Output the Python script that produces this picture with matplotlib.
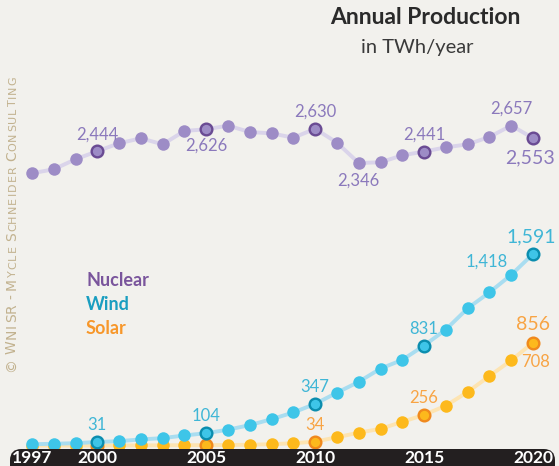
import numpy as np
import matplotlib
matplotlib.use("Agg")
import matplotlib.pyplot as plt
from matplotlib.patches import FancyBboxPatch

# Données (TWh/an)
annees = list(range(1997, 2021))
nucleaire = [2261, 2294, 2377, 2444, 2510, 2551, 2501, 2612, 2626, 2656, 2603, 2592,
             2556, 2630, 2515, 2346, 2352, 2410, 2441, 2476, 2501, 2562, 2657, 2553]
eolien = [12, 16, 21, 31, 38, 52, 63, 85, 104, 133, 171, 220,
          276, 347, 440, 530, 640, 712, 831, 964, 1140, 1272, 1418, 1591]
solaire = [0.7, 0.9, 1.1, 1.4, 1.8, 2.4, 3.2, 4.4, 4.4, 5.9, 7.6, 12.5,
           20.2, 34, 70, 108, 140, 198, 256, 332, 446, 578, 708, 856]
annees_cles = [2000, 2005, 2010, 2015, 2020]
ticks_annees = [1997, 2000, 2005, 2010, 2015, 2020]

# Étiquettes : (année, valeur affichée, décalage x px, décalage y px, taille)
etiq_nuc = [(2000, 2444, 0, 17, 12), (2005, 2626, 0, -16, 12), (2010, 2630, 0, 17, 12),
            (2012, 2346, 0, -18, 12), (2015, 2441, 0, 17, 12), (2019, 2657, 0, 17, 12),
            (2020, 2553, -3, -20, 14)]
etiq_eol = [(2000, 31, 0, 17, 12), (2005, 104, 0, 17, 12), (2010, 347, 0, 17, 12),
            (2015, 831, 0, 17, 12), (2019, 1418, -24, 13, 12), (2020, 1591, -2, 17, 14)]
etiq_sol = [(2010, 34, 0, 17, 12), (2015, 256, 0, 17, 12), (2020, 856, 0, 18, 14),
            (2019, 708, 24, -2, 12)]

series = [
    ("Nuclear", nucleaire, '#dad4ea', '#9d8cc6', '#6a4b93', '#8b79bc', '#7a559c', etiq_nuc),
    ("Solar", solaire, '#fde4b2', '#fdb91c', '#f0891d', '#f8a444', '#f7972a', etiq_sol),
    ("Wind", eolien, '#a9ddf0', '#3ec5e8', '#0b8dae', '#3fb6d6', '#1a9ec0', etiq_eol),
]

W, H = 559, 466
fig = plt.figure(figsize=(W / 100, H / 100), dpi=100)
fond = '#f2f1ed'
fig.patch.set_facecolor(fond)
ax = fig.add_axes([0, 0, 1, 1])
ax.set_facecolor(fond)
ax.axis('off')

# échelles : 1997 -> x=32 px, 2020 -> x=533 px ; 0 TWh -> y=445.7 px (depuis le haut)
px_an = (533 - 32) / 23
ax.set_xlim(1997 - 32 / px_an, 1997 + (W - 32) / px_an)
px_twh = 0.1205
ax.set_ylim(-(H - 445.7) / px_twh, 445.7 / px_twh)

police = 'Lato'
z = 2
for nom, vals, c_ligne, c_pt, c_bord, c_txt, c_leg, etiq in series:
    ax.plot(annees, vals, color=c_ligne, lw=2.8, zorder=z, solid_capstyle='round')
    ax.plot(annees, vals, 'o', color=c_pt, ms=9, mec='none', zorder=z + 1)
    cles = [v for a, v in zip(annees, vals) if a in annees_cles]
    ax.plot(annees_cles, cles, 'o', color=c_pt, ms=8.4, mec=c_bord, mew=1.7, zorder=z + 2)
    for a, v, dx, dy, taille in etiq:
        yv = vals[annees.index(a)]
        ax.annotate(f"{v:,}", (a, yv), xytext=(dx * 0.72, dy * 0.72), textcoords='offset points',
                    ha='center', va='center', color=c_txt, fontsize=taille, family=police,
                    zorder=10)
    z += 3

# légende texte
for i, (nom, _, _, _, _, _, c_leg, _) in enumerate([series[0], series[2], series[1]]):
    fig.text(86 / W, 1 - (280 + 24 * i) / H, nom, color=c_leg, fontsize=13, fontweight='bold',
             family=police, ha='left', va='center')

# titre
fig.text(425 / W, 1 - 18 / H, "Annual Production", fontsize=16.5, fontweight='bold',
         family=police, color='#2a2a2a', ha='center', va='center')
fig.text(417 / W, 1 - 48 / H, "in TWh/year", fontsize=14.5, family=police,
         color='#3a3a3a', ha='center', va='center')

# barre des années
barre = FancyBboxPatch((10 / W, -20 / H), 545 / W, (20 + 17) / H,
                       boxstyle="round,pad=0,rounding_size=0.02",
                       transform=fig.transFigure, facecolor='#231f20', edgecolor='none',
                       mutation_aspect=W / H, zorder=20)
fig.patches.append(barre)
for a in ticks_annees:
    xp = ax.transData.transform((a, 0))[0] / W
    fig.text(xp, 1 - 458 / H, str(a), color='white', fontsize=12.5, fontweight='bold',
             family=police, ha='center', va='center', zorder=21)

# filigrane en petites capitales, vertical, lettres espacées
grandes = set("©WNISR-MSC")
texte = "© WNISR - MYCLE SCHNEIDER CONSULTING"
tailles = [10 if (c in grandes and (i < 11 or texte[i - 1] == ' ')) else 8
           for i, c in enumerate(texte)]
renderer = fig.canvas.get_renderer()
lettres = []
hauteurs = []
for c, taille in zip(texte, tailles):
    t = fig.text(16 / W, 0, c, rotation=90, fontsize=taille, family='DejaVu Sans',
                 color='#c2b28f', ha='left', va='baseline', rotation_mode='anchor')
    lettres.append(t)
    hauteurs.append(2.0 if c == ' ' else t.get_window_extent(renderer).height)
longueur = 296
ecart = (longueur - sum(hauteurs)) / (len(texte) - 1)
y0 = H - 372
for t, h in zip(lettres, hauteurs):
    t.set_y(y0 / H)
    y0 += h + ecart

fig.savefig("out.png", dpi=100, facecolor=fond)
